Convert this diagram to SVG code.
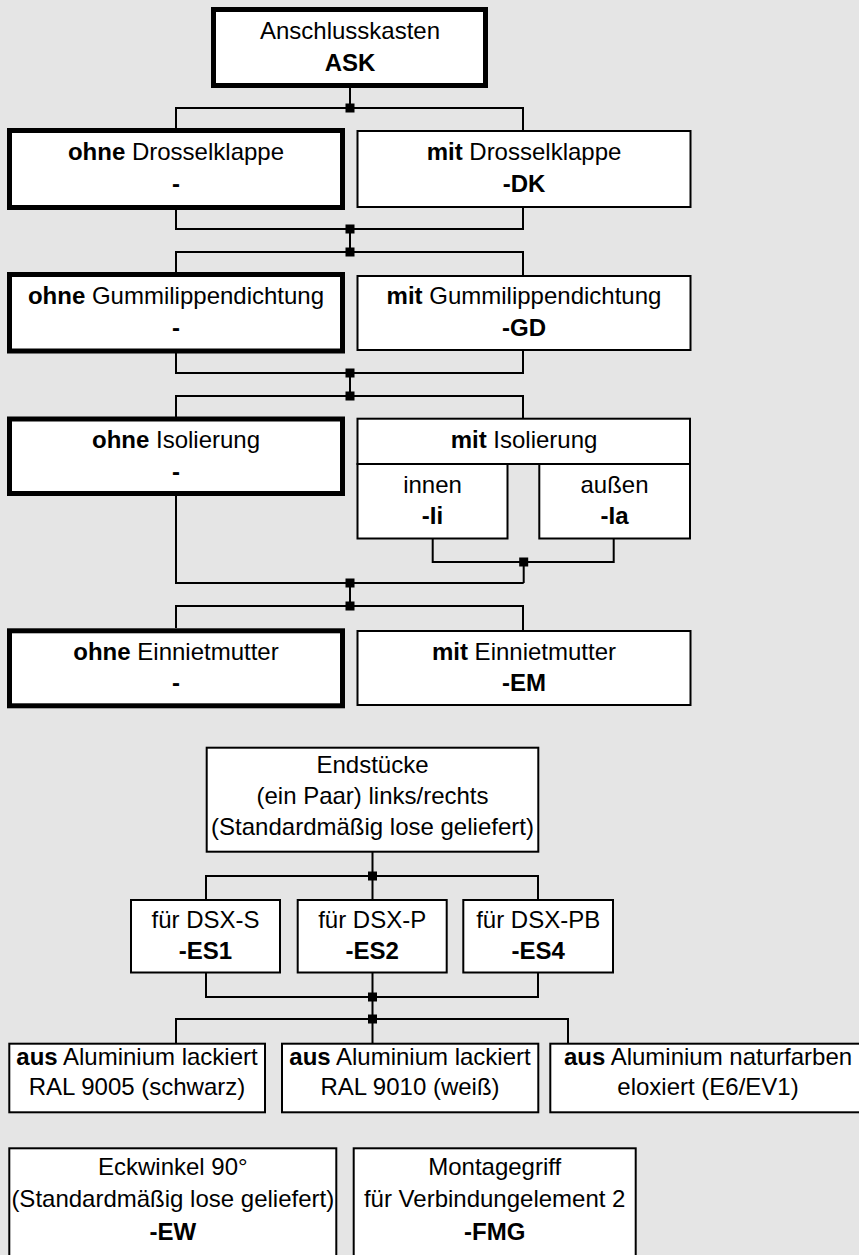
<svg xmlns="http://www.w3.org/2000/svg" width="859" height="1255" viewBox="0 0 859 1255">
<style>
.box{fill:#fff;stroke:#000;stroke-width:2}
.thick{stroke-width:5}
.ln{fill:none;stroke:#000;stroke-width:2}
.j{fill:#000}
text{font-family:"Liberation Sans",Arial,sans-serif;font-size:24px;fill:#000;text-anchor:middle}
.b{font-weight:bold}
</style>
<defs>
<rect id="jn" x="-4.5" y="-4.5" width="9" height="9" class="j"/>
</defs>
<rect x="0" y="0" width="859" height="1255" fill="#e5e5e5"/>

<g id="connectors">
<path class="ln" d="M350 88V108M176 128V108H523V130"/>
<path class="ln" d="M176 210V229H523V207M350 229V252M176 272V252H523V275"/>
<path class="ln" d="M176 353V373H523V350M350 373V396M176 417V396H523V418"/>
<path class="ln" d="M432.7 539V562H613.7V539M523.7 562V583M176 496V583H523.7M350 583V606M176 628V606H523V630"/>
<path class="ln" d="M372.5 852V899M206 899V876H538V899"/>
<path class="ln" d="M206 973V997H538V973M372.5 973V1043M176 1043V1019H568V1043"/>
<use href="#jn" x="350" y="108"/>
<use href="#jn" x="350" y="229"/>
<use href="#jn" x="350" y="252"/>
<use href="#jn" x="350" y="373"/>
<use href="#jn" x="350" y="396"/>
<use href="#jn" x="523.7" y="562"/>
<use href="#jn" x="350" y="583"/>
<use href="#jn" x="350" y="606"/>
<use href="#jn" x="372.5" y="876"/>
<use href="#jn" x="372.5" y="997"/>
<use href="#jn" x="372.5" y="1019"/>
</g>

<g id="ask">
<rect class="box thick" x="213.5" y="9.5" width="272" height="76"/>
<text x="350" y="39">Anschlusskasten</text>
<text x="350" y="71" class="b">ASK</text>
</g>

<g id="ohne-dk">
<rect class="box thick" x="9.5" y="130.5" width="333" height="77"/>
<text x="176" y="160"><tspan class="b">ohne</tspan> Drosselklappe</text>
<text x="176" y="192" class="b">-</text>
</g>
<g id="mit-dk">
<rect class="box" x="357.5" y="131" width="333" height="76"/>
<text x="524" y="160"><tspan class="b">mit</tspan> Drosselklappe</text>
<text x="524" y="192" class="b">-DK</text>
</g>

<g id="ohne-gd">
<rect class="box thick" x="9.5" y="274.5" width="333" height="76.5"/>
<text x="176" y="304"><tspan class="b">ohne</tspan> Gummilippendichtung</text>
<text x="176" y="336" class="b">-</text>
</g>
<g id="mit-gd">
<rect class="box" x="357.5" y="276" width="333" height="74"/>
<text x="524" y="304"><tspan class="b">mit</tspan> Gummilippendichtung</text>
<text x="524" y="336" class="b">-GD</text>
</g>

<g id="ohne-iso">
<rect class="box thick" x="9.5" y="419" width="333" height="74.5"/>
<text x="176" y="448"><tspan class="b">ohne</tspan> Isolierung</text>
<text x="176" y="480" class="b">-</text>
</g>
<g id="mit-iso">
<rect class="box" x="357.5" y="418.7" width="332.5" height="45.3"/>
<text x="524" y="448"><tspan class="b">mit</tspan> Isolierung</text>
</g>
<g id="innen">
<rect class="box" x="357.5" y="464" width="150" height="74.5"/>
<text x="432.5" y="493">innen</text>
<text x="432.5" y="524" class="b">-Ii</text>
</g>
<g id="aussen">
<rect class="box" x="539.3" y="464" width="150.7" height="74.5"/>
<text x="614.5" y="493">außen</text>
<text x="614.5" y="524" class="b">-Ia</text>
</g>

<g id="ohne-em">
<rect class="box thick" x="9.5" y="630.8" width="333" height="75"/>
<text x="176" y="660"><tspan class="b">ohne</tspan> Einnietmutter</text>
<text x="176" y="691" class="b">-</text>
</g>
<g id="mit-em">
<rect class="box" x="357.5" y="631" width="333" height="74"/>
<text x="524" y="660"><tspan class="b">mit</tspan> Einnietmutter</text>
<text x="524" y="691" class="b">-EM</text>
</g>

<g id="endstuecke">
<rect class="box" x="206.7" y="747.7" width="331.6" height="104"/>
<text x="372.5" y="773">Endstücke</text>
<text x="372.5" y="804">(ein Paar) links/rechts</text>
<text x="372.5" y="835">(Standardmäßig lose geliefert)</text>
</g>

<g id="es1">
<rect class="box" x="131" y="900" width="149" height="72.5"/>
<text x="205.5" y="928">für DSX-S</text>
<text x="205.5" y="959" class="b">-ES1</text>
</g>
<g id="es2">
<rect class="box" x="297.7" y="900" width="149" height="72.5"/>
<text x="372.2" y="928">für DSX-P</text>
<text x="372.2" y="959" class="b">-ES2</text>
</g>
<g id="es4">
<rect class="box" x="463.3" y="900" width="149.7" height="72.5"/>
<text x="538.2" y="928">für DSX-PB</text>
<text x="538.2" y="959" class="b">-ES4</text>
</g>

<g id="ral9005">
<rect class="box" x="9.3" y="1043.7" width="255.7" height="68.6"/>
<text x="137" y="1065"><tspan class="b">aus</tspan> Aluminium lackiert</text>
<text x="137" y="1095">RAL 9005 (schwarz)</text>
</g>
<g id="ral9010">
<rect class="box" x="282" y="1043.7" width="256.3" height="68.6"/>
<text x="410" y="1065"><tspan class="b">aus</tspan> Aluminium lackiert</text>
<text x="410" y="1095">RAL 9010 (weiß)</text>
</g>
<g id="natur">
<rect class="box" x="550.3" y="1043.7" width="330" height="68.6"/>
<text x="708" y="1065"><tspan class="b">aus</tspan> Aluminium naturfarben</text>
<text x="708" y="1095">eloxiert (E6/EV1)</text>
</g>

<g id="ew">
<rect class="box" x="9.3" y="1148.3" width="327" height="130"/>
<text x="172.8" y="1175">Eckwinkel 90°</text>
<text x="172.8" y="1207">(Standardmäßig lose geliefert)</text>
<text x="172.8" y="1240" class="b">-EW</text>
</g>
<g id="fmg">
<rect class="box" x="353.7" y="1148.3" width="282" height="130"/>
<text x="494.7" y="1175">Montagegriff</text>
<text x="494.7" y="1207">für Verbindungelement 2</text>
<text x="494.7" y="1240" class="b">-FMG</text>
</g>
</svg>
